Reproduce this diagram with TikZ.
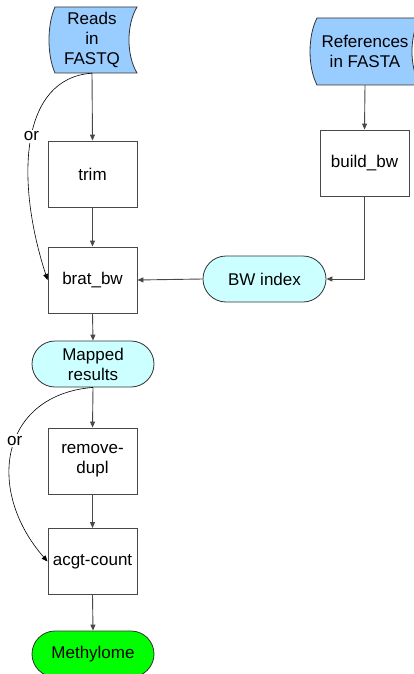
\documentclass[tikz,border=0pt]{standalone}
\usepackage{fontspec}
\setmainfont{Liberation Sans}
\usetikzlibrary{arrows.meta,calc}
\definecolor{datablue}{HTML}{99CCFF}
\definecolor{lightcyan}{HTML}{CCFFFF}
\definecolor{brightgreen}{HTML}{00FF00}
\definecolor{edgegray}{HTML}{484848}
\begin{document}
\begin{tikzpicture}[x=1pt,y=-1pt,
  every node/.style={font=\fontsize{17}{20}\selectfont, align=center, inner sep=0pt},
  procbox/.style={draw=edgegray, line width=0.9pt, fill=white, minimum width=89pt, minimum height=66pt},
  termnode/.style={draw=black!80, line width=0.8pt, rounded corners=23pt, minimum width=122pt, minimum height=46pt},
  datashape/.style={draw=black!80, line width=0.8pt, fill=datablue},
  flow/.style={draw=edgegray, line width=0.9pt, -{Triangle[length=6pt,width=5pt]}},
  altflow/.style={draw=black, line width=0.6pt, -{Triangle[length=6pt,width=5pt]}},
  orlabel/.style={fill=white, inner sep=2pt}
]
\useasboundingbox (0,0) rectangle (414,674);
% stored data shapes
\path[datashape] (55,7) -- (137,7) .. controls (126.3,25) and (126.3,55) .. (137,73) -- (55,73) .. controls (47,55) and (47,25) .. (55,7) -- cycle;
\path[datashape] (317,18) -- (420,18) .. controls (409.3,36) and (409.3,67) .. (420,85) -- (317,85) .. controls (307.7,67) and (307.7,36) .. (317,18) -- cycle;
\node[minimum height=66pt] (reads) at (92,40) {Reads\\in\\FASTQ};
\node[minimum height=67pt] (refs) at (365,51.5) {References\\in FASTA};
% process boxes
\node[procbox] (trim) at (92.5,174) {trim};
\node[procbox] (brat) at (92.5,280) {brat\_bw};
\node[procbox] (build) at (364.5,163) {build\_bw};
\node[procbox] (rmdup) at (92.5,461) {remove-\\dupl};
\node[procbox] (acgt) at (92.5,561.5) {acgt-count};
% terminators
\node[termnode, fill=lightcyan, minimum width=123pt] (bwidx) at (264.5,279) {BW index};
\node[termnode, fill=lightcyan] (mapped) at (93,364) {Mapped\\results};
\node[termnode, fill=brightgreen] (methyl) at (93,654) {Methylome};
% connectors
\draw[flow] (reads.south) -- (trim.north);
\draw[flow] (trim.south) -- (brat.north);
\draw[flow] (refs.south) -- (build.north);
\draw[flow] (build.south) |- (bwidx.east);
\draw[flow] (bwidx.west) -- (brat.east);
\draw[flow] (brat.south) -- (mapped.north);
\draw[flow] (mapped.south) -- (rmdup.north);
\draw[flow] (rmdup.south) -- (acgt.north);
\draw[flow] (acgt.south) -- (methyl.north);
\draw[altflow] (reads.south) .. controls (20,78) and (15,180) .. node[orlabel, pos=0.48] {or} (brat.west);
\draw[altflow] (mapped.south) .. controls (0,395) and (-15,490) .. node[orlabel, pos=0.45] {or} (acgt.west);
\end{tikzpicture}
\end{document}
